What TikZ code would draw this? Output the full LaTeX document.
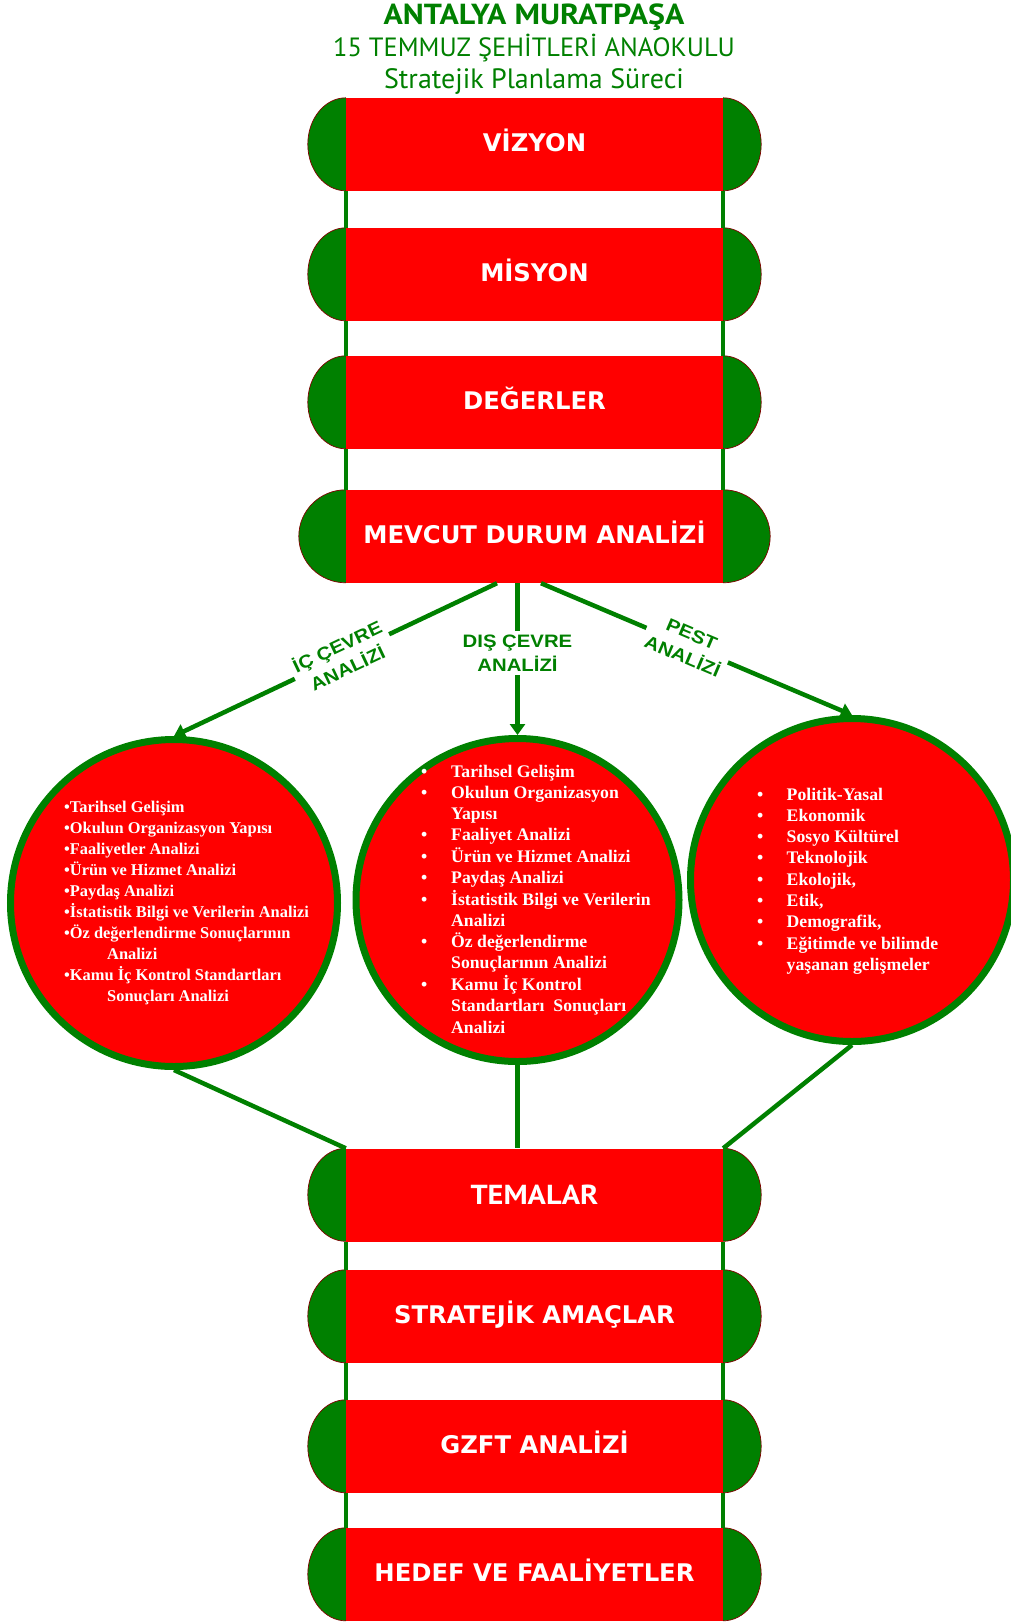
\documentclass[tikz,border=0pt]{standalone}
\usepackage{fontspec}
\setmainfont{Liberation Serif}
\newfontfamily\dinfont{PT Sans}
\newfontfamily\dinwide{PT Sans}[FakeStretch=1.1]
\newfontfamily\barfont{DejaVu Sans}
\newfontfamily\lblfont{Liberation Sans}[FakeStretch=1.13]
\usetikzlibrary{arrows.meta}
\definecolor{okgreen}{RGB}{0,128,0}
\definecolor{okred}{RGB}{255,0,0}
\definecolor{rim}{RGB}{128,0,0}

\begin{document}
\begin{tikzpicture}[x=1pt,y=-1pt]
  \tikzstyle{bar}=[rectangle,fill=okred,minimum width=377pt,minimum height=93pt,inner sep=0pt,text height=17.7pt,text depth=4pt,text=white,font=\barfont\bfseries\fontsize{24.3}{28}\selectfont]
  \tikzstyle{ring}=[circle,draw=okgreen,line width=7pt,fill=okred,minimum size=327pt,inner sep=0pt]
  \tikzstyle{edge}=[draw=okgreen,line width=4.5pt]
  \tikzstyle{rung}=[draw=okgreen,line width=4pt]
  \tikzstyle{branch}=[fill=white,text=okgreen,align=center,inner sep=4pt,font=\lblfont\bfseries\fontsize{18}{24}\selectfont]
  \tikzstyle{items}=[anchor=base west,inner sep=0pt,text=white,font=\bfseries\fontsize{17.7}{21.3}\selectfont]
  \useasboundingbox (0,0) rectangle (1010,1623);

  % title
  \node[anchor=base,text=okgreen,font=\dinwide\bfseries\fontsize{29}{29}\selectfont] (t1) at (534,24) {ANTALYA MURATPAŞA};
  \node[anchor=base,text=okgreen,font=\dinfont\fontsize{26.4}{28}\selectfont] (t2) at (534,56.5) {15 TEMMUZ ŞEHİTLERİ ANAOKULU};
  \node[anchor=base,text=okgreen,font=\dinfont\fontsize{28}{28}\selectfont] (t3) at (534,88) {Stratejik Planlama Süreci};

  % the three analysis circles
  \node[ring] (ic) at (174,903) {};
  \node[ring,minimum size=323pt] (dis) at (517.5,900) {};
  \node[ring,minimum size=323pt] (pest) at (852,880) {};

  \node[items,font=\bfseries\fontsize{16.4}{21.1}\selectfont] (icl) at (64,812) {\begin{tabular}[t]{@{}l@{}}
    •Tarihsel Gelişim\\
    •Okulun Organizasyon Yapısı\\
    •Faaliyetler Analizi\\
    •Ürün ve Hizmet Analizi\\
    •Paydaş Analizi\\
    •İstatistik Bilgi ve Verilerin Analizi\\
    •Öz değerlendirme Sonuçlarının\\
    \hspace*{43pt}Analizi\\
    •Kamu İç Kontrol Standartları\\
    \hspace*{43pt}Sonuçları Analizi
  \end{tabular}};
  \node[items] (disl) at (421,777) {\begin{tabular}[t]{@{}p{30pt}@{}l@{}}
    • & Tarihsel Gelişim\\
    • & Okulun Organizasyon\\
      & Yapısı\\
    • & Faaliyet Analizi\\
    • & Ürün ve Hizmet Analizi\\
    • & Paydaş Analizi\\
    • & İstatistik Bilgi ve Verilerin\\
      & Analizi\\
    • & Öz değerlendirme\\
      & Sonuçlarının Analizi\\
    • & Kamu İç Kontrol\\
      & Standartları\ \ Sonuçları\\
      & Analizi
  \end{tabular}};
  \node[items] (pestl) at (757,800) {\begin{tabular}[t]{@{}p{29.5pt}@{}l@{}}
    • & Politik-Yasal\\
    • & Ekonomik\\
    • & Sosyo Kültürel\\
    • & Teknolojik\\
    • & Ekolojik,\\
    • & Etik,\\
    • & Demografik,\\
    • & Eğitimde ve bilimde\\
      & yaşanan gelişmeler
  \end{tabular}};

  % the ladder bars
  \node[bar] (viz) at (534.5,144.5) {VİZYON};
  \node[bar] (mis) at (534.5,274.5) {MİSYON};
  \node[bar] (deg) at (534.5,402.5) {DEĞERLER};
  \node[bar] (mev) at (534.5,536.5) {MEVCUT DURUM ANALİZİ};
  \node[bar,text height=19.5pt,text depth=0pt,font=\dinwide\bfseries\fontsize{27.5}{28}\selectfont] (tem) at (534.5,1195) {TEMALAR};
  \node[bar] (str) at (534.5,1316.5) {STRATEJİK AMAÇLAR};
  \node[bar] (gzf) at (534.5,1446.5) {GZFT ANALİZİ};
  \node[bar] (hed) at (534.5,1574.5) {HEDEF VE FAALİYETLER};

  \foreach \b/\w in {viz/38,mis/38,deg/38,mev/47,tem/38,str/38,gzf/38,hed/38}{
    \fill[okgreen] (\b.north west) arc[start angle=90,end angle=270,x radius=\w pt,y radius=46.5pt] -- cycle;
    \fill[okgreen] (\b.north east) arc[start angle=90,end angle=-90,x radius=\w pt,y radius=46.5pt] -- cycle;
    \draw[rim,line width=0.7pt] (\b.north west) arc[start angle=90,end angle=270,x radius=\w pt,y radius=46.5pt];
    \draw[rim,line width=0.7pt] (\b.north east) arc[start angle=90,end angle=-90,x radius=\w pt,y radius=46.5pt];
  }
  \foreach \a/\b in {viz/mis,mis/deg,deg/mev,tem/str,str/gzf,gzf/hed}{
    \path[rung] (\a.south west) -- (\b.north west);
    \path[rung] (\a.south east) -- (\b.north east);
  }

  % branches out of the current state analysis
  \path[edge,-{Triangle[width=15pt,length=11pt]}] ([xshift=-37.5pt]mev.south) -- node[branch,sloped,pos=0.48] {İÇ ÇEVRE\\ANALİZİ} (ic.north);
  \path[edge,-{Triangle[width=15pt,length=11pt]}] (dis.north |- mev.south) -- node[branch,pos=0.46] {DIŞ ÇEVRE\\ANALİZİ} (dis.north);
  \path[edge,-{Triangle[width=15pt,length=11pt]}] ([xshift=6.5pt]mev.south) -- node[branch,sloped,pos=0.47] {PEST\\ANALİZİ} (pest.north);

  % back into the themes
  \path[edge] (ic.south) -- (tem.north west);
  \path[edge] (dis.south) -- (dis.south |- tem.north);
  \path[edge] (pest.south) -- (tem.north east);
\end{tikzpicture}
\end{document}
